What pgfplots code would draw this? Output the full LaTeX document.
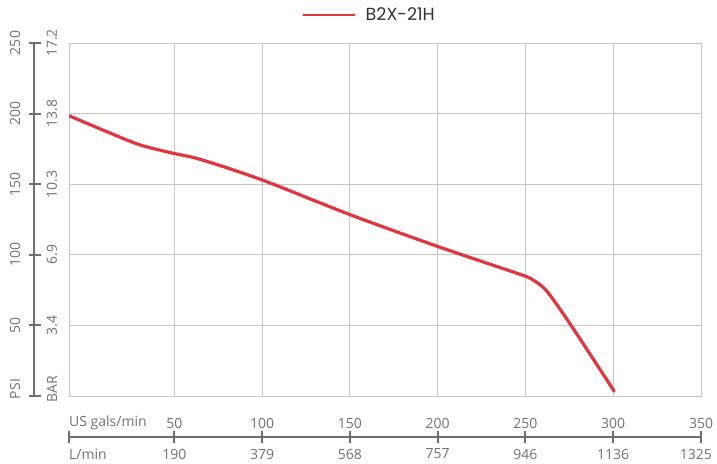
\documentclass[border=0pt]{standalone}
\usepackage{pgfplots}
\pgfplotsset{compat=1.18}
\usepackage{fontspec}
\setmainfont{Open Sans}
\newfontfamily\legendfont{Poppins}
\definecolor{curvered}{HTML}{E2363F}
\definecolor{axisgray}{HTML}{6E6E6E}
\definecolor{labelgray}{HTML}{727272}
\definecolor{gridgray}{HTML}{C6C6C6}
\definecolor{darktext}{HTML}{333333}

\begin{document}
\begin{tikzpicture}
% page frame, 1pt = 1px of the reference
\path (0,0) rectangle (717pt,-463pt);

\begin{axis}[
  at={(69pt,-396pt)}, anchor=south west,
  scale only axis, width=632pt, height=353pt,
  xmin=-10, xmax=350, ymin=0, ymax=250,
  xtick={50,100,...,300}, ytick={50,100,...,200},
  xticklabels={}, yticklabels={},
  major tick length=0pt,
  grid=major,
  grid style={gridgray, line width=1pt},
  axis line style={gridgray, line width=1pt},
  legend style={at={(0.3687,1.079)}, anchor=west, draw=none, fill=none,
    inner sep=0pt, text=darktext,
    font=\legendfont\fontsize{17.5}{18}\selectfont,
    /tikz/every odd column/.append style={column sep=8pt}},
  legend image code/.code={\draw[#1, line width=2.5pt] (0pt,0pt) -- (51pt,0pt);},
]
\addplot[curvered, line width=3.2pt, line join=round, line cap=round, smooth, tension=0.5]
  coordinates {(-10,198.5) (10,188) (30,178) (49,172) (65,167.5)
    (100,153) (151,128) (201,105.5) (245,87) (252,83.8) (257,80)
    (263,73) (276,50) (300.5,3.5)};
\addlegendentry{B2X-21H}
\end{axis}

% left pressure axis
\draw[axisgray, line width=2pt] (34pt,-43pt) -- (34pt,-396pt);
\foreach \y in {43,113.6,184.2,254.8,325.4,396}
  \draw[axisgray, line width=2pt] (28.5pt,-\y pt) -- (40.5pt,-\y pt);
\begin{scope}[every node/.style={rotate=90, text=labelgray, inner sep=0pt,
    font=\fontsize{14}{14}\selectfont}]
  \node at (15pt,-43pt) {250};
  \node at (15pt,-113.6pt) {200};
  \node at (15pt,-184.2pt) {150};
  \node at (15pt,-254.8pt) {100};
  \node at (15pt,-325.4pt) {50};
  \node at (15pt,-389pt) {PSI};
  \node at (52pt,-43pt) {17.2};
  \node at (52pt,-113.6pt) {13.8};
  \node at (52pt,-184.2pt) {10.3};
  \node at (52pt,-254.8pt) {6.9};
  \node at (52pt,-325.4pt) {3.4};
  \node at (52pt,-389pt) {BAR};
\end{scope}

% bottom flow axis
\draw[axisgray, line width=2pt] (69pt,-437pt) -- (701pt,-437pt);
\foreach \x in {69,174.3,262.1,349.9,437.7,525.4,613.2,701}
  \draw[axisgray, line width=2pt] (\x pt,-431pt) -- (\x pt,-443pt);
\begin{scope}[every node/.style={text=labelgray, inner sep=0pt,
    font=\fontsize{14}{14}\selectfont}]
  \node[anchor=west] at (69pt,-423pt) {US gals/min};
  \node[anchor=west] at (69pt,-454pt) {L/min};
  \node at (174.3pt,-423pt) {50};
  \node at (262.1pt,-423pt) {100};
  \node at (349.9pt,-423pt) {150};
  \node at (437.7pt,-423pt) {200};
  \node at (525.4pt,-423pt) {250};
  \node at (613.2pt,-423pt) {300};
  \node at (701pt,-423pt) {350};
  \node at (174.3pt,-454pt) {190};
  \node at (262.1pt,-454pt) {379};
  \node at (349.9pt,-454pt) {568};
  \node at (437.7pt,-454pt) {757};
  \node at (525.4pt,-454pt) {946};
  \node at (613.2pt,-454pt) {1136};
  \node[anchor=east] at (712pt,-454pt) {1325};
\end{scope}
\end{tikzpicture}
\end{document}
